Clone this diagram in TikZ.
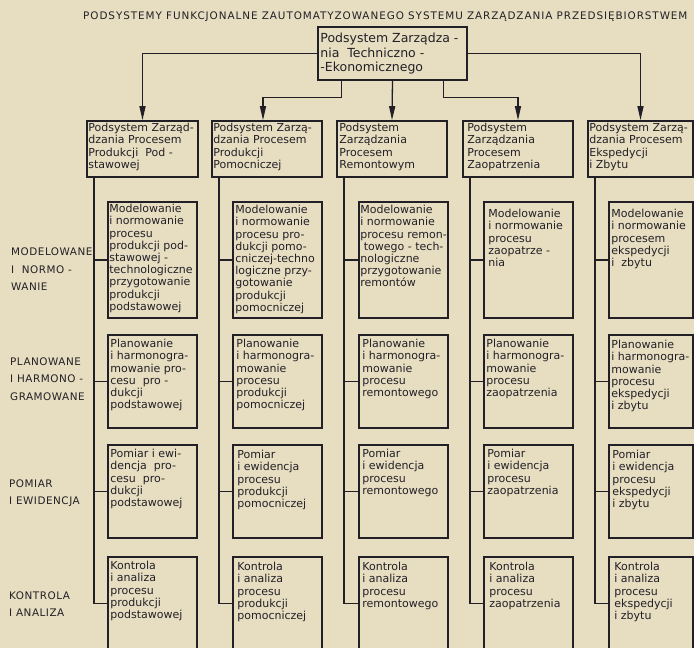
\documentclass[tikz,border=0pt]{standalone}
\usepackage{fontspec}
\setmainfont{DejaVu Sans}
\usetikzlibrary{arrows.meta,fit}
\definecolor{paper}{RGB}{231,221,193}
\definecolor{ink}{RGB}{34,32,38}
\begin{document}
\begin{tikzpicture}[x=1pt,y=-1pt,
  box/.style={draw=ink, line width=1.6pt, inner sep=0pt},
  txt/.style={anchor=north west, align=left, inner sep=0pt, text=ink, font=\fontsize{11}{12.2}\selectfont},
  conn/.style={draw=ink, line width=1.3pt},
  arr/.style={conn, -{Triangle[length=14pt,width=6pt]}},
  lab/.style={anchor=west, align=left, inner sep=0pt, text=ink, font=\fontsize{10.4}{17.5}\selectfont\addfontfeatures{LetterSpace=5}}]
\clip (0,0) rectangle (694,648);
\fill[paper] (0,0) rectangle (694,648);

% title
\node[anchor=west, inner sep=0pt, text=ink, font=\fontsize{10.4}{11}\selectfont\addfontfeatures{LetterSpace=9}] (title) at (83,17) {PODSYSTEMY FUNKCJONALNE ZAUTOMATYZOWANEGO SYSTEMU ZARZĄDZANIA PRZEDSIĘBIORSTWEM};

% top box
\node[box, fit={(318,27)(467,80)}] (top) {};
\node[txt, font=\fontsize{12.5}{14.5}\selectfont] (topt) at ([shift={(3pt,-7pt)}]top.north west) {Podsystem Zarządza -\\nia~~Techniczno -\\-Ekonomicznego};

% headers
\node[box, fit={(87,121)(198,177)}] (h1) {};
\node[box, fit={(212,121)(322,177)}] (h2) {};
\node[box, fit={(337,121)(447,177)}] (h3) {};
\node[box, fit={(463,121)(573,177)}] (h4) {};
\node[box, fit={(588,121)(693,177)}] (h5) {};
\node[txt] (h1t) at ([shift={(2pt,-3pt)}]h1.north west) {Podsystem Zarząd-\\dzania Procesem\\Produkcji~~Pod -\\stawowej};
\node[txt] (h2t) at ([shift={(2pt,-3pt)}]h2.north west) {Podsystem Zarzą-\\dzania Procesem\\Produkcji\\Pomocniczej};
\node[txt] (h3t) at ([shift={(3pt,-3pt)}]h3.north west) {Podsystem\\Zarządzania\\Procesem\\Remontowym};
\node[txt] (h4t) at ([shift={(5pt,-3pt)}]h4.north west) {Podsystem\\Zarządzania\\Procesem\\Zaopatrzenia};
\node[txt] (h5t) at ([shift={(2pt,-3pt)}]h5.north west) {Podsystem Zarzą-\\dzania Procesem\\Ekspedycji\\i Zbytu};

% connectors from top
\draw[arr] (top.west) -| (h1.north);
\draw[arr] (top.east) -| (h5.north);
\draw[arr] (top.south) -- (h3.north);
\draw[arr] ([xshift=-51pt]top.south) -- ++(0,17) -| ([xshift=-4pt]h2.north);
\draw[arr] ([xshift=51pt]top.south) -- ++(0,17) -| (h4.north);

% spine x positions
\coordinate (s1) at (94,0);
\coordinate (s2) at (219,0);
\coordinate (s3) at (344,0);
\coordinate (s4) at (470,0);
\coordinate (s5) at (595,0);

% row boxes
\node[box, fit={(108,202)(197,318)}] (m1) {};
\node[box, fit={(233,202)(322,318)}] (m2) {};
\node[box, fit={(359,202)(448,318)}] (m3) {};
\node[box, fit={(484,202)(573,318)}] (m4) {};
\node[box, fit={(609,202)(693,318)}] (m5) {};

\node[box, fit={(108,335)(197,428)}] (p1) {};
\node[box, fit={(233,335)(322,428)}] (p2) {};
\node[box, fit={(359,335)(448,428)}] (p3) {};
\node[box, fit={(484,335)(573,428)}] (p4) {};
\node[box, fit={(609,335)(693,428)}] (p5) {};

\node[box, fit={(108,445)(197,538)}] (e1) {};
\node[box, fit={(233,445)(322,538)}] (e2) {};
\node[box, fit={(359,445)(448,538)}] (e3) {};
\node[box, fit={(484,445)(573,538)}] (e4) {};
\node[box, fit={(609,445)(693,538)}] (e5) {};

\node[box, fit={(108,557)(197,650)}] (k1) {};
\node[box, fit={(233,557)(322,650)}] (k2) {};
\node[box, fit={(359,557)(448,650)}] (k3) {};
\node[box, fit={(484,557)(573,650)}] (k4) {};
\node[box, fit={(609,557)(693,650)}] (k5) {};

% texts
\node[txt] (m1t) at ([shift={(2pt,-3pt)}]m1.north west) {Modelowanie\\i normowanie\\procesu\\produkcji pod-\\stawowej -\\technologiczne\\przygotowanie\\produkcji\\podstawowej};
\node[txt] (m2t) at ([shift={(3pt,-4pt)}]m2.north west) {Modelowanie\\i normowanie\\procesu pro-\\dukcji pomo-\\cniczej-techno\\logiczne przy-\\gotowanie\\produkcji\\pomocniczej};
\node[txt] (m3t) at ([shift={(2pt,-4pt)}]m3.north west) {Modelowanie\\i normowanie\\procesu remon-\\~towego - tech-\\nologiczne\\przygotowanie\\remontów};
\node[txt] (m4t) at ([shift={(5pt,-8pt)}]m4.north west) {Modelowanie\\i normowanie\\procesu\\zaopatrze -\\nia};
\node[txt] (m5t) at ([shift={(3pt,-8pt)}]m5.north west) {Modelowanie\\i normowanie\\procesem\\ekspedycji\\i~ zbytu};

\node[txt] (p1t) at ([shift={(3pt,-5pt)}]p1.north west) {Planowanie\\i harmonogra-\\mowanie pro-\\cesu~~pro -\\dukcji\\podstawowej};
\node[txt] (p2t) at ([shift={(4pt,-5pt)}]p2.north west) {Planowanie\\i harmonogra-\\mowanie\\procesu\\produkcji\\pomocniczej};
\node[txt] (p3t) at ([shift={(4pt,-5pt)}]p3.north west) {Planowanie\\i harmonogra-\\mowanie\\procesu\\remontowego};
\node[txt] (p4t) at ([shift={(3pt,-5pt)}]p4.north west) {Planowanie\\i harmonogra-\\mowanie\\procesu\\zaopatrzenia};
\node[txt] (p5t) at ([shift={(3pt,-6pt)}]p5.north west) {Planowanie\\i harmonogra-\\mowanie\\procesu\\ekspedycji\\i zbytu};

\node[txt] (e1t) at ([shift={(3pt,-5pt)}]e1.north west) {Pomiar i ewi-\\dencja~~pro-\\cesu~~pro-\\dukcji\\podstawowej};
\node[txt] (e2t) at ([shift={(5pt,-6pt)}]e2.north west) {Pomiar\\i ewidencja\\procesu\\produkcji\\pomocniczej};
\node[txt] (e3t) at ([shift={(4pt,-5pt)}]e3.north west) {Pomiar\\i ewidencja\\procesu\\remontowego};
\node[txt] (e4t) at ([shift={(4pt,-5pt)}]e4.north west) {Pomiar\\i ewidencja\\procesu\\zaopatrzenia};
\node[txt] (e5t) at ([shift={(4pt,-6pt)}]e5.north west) {Pomiar\\i ewidencja\\procesu\\ekspedycji\\i zbytu};

\node[txt] (k1t) at ([shift={(3pt,-5pt)}]k1.north west) {Kontrola\\i analiza\\procesu\\produkcji\\podstawowej};
\node[txt] (k2t) at ([shift={(5pt,-6pt)}]k2.north west) {Kontrola\\i analiza\\procesu\\produkcji\\pomocniczej};
\node[txt] (k3t) at ([shift={(4pt,-6pt)}]k3.north west) {Kontrola\\i analiza\\procesu\\remontowego};
\node[txt] (k4t) at ([shift={(6pt,-6pt)}]k4.north west) {Kontrola\\i analiza\\procesu\\zaopatrzenia};
\node[txt] (k5t) at ([shift={(6pt,-6pt)}]k5.north west) {Kontrola\\i analiza\\procesu\\ekspedycji\\i zbytu};

% spines and branches
\foreach \c in {1,...,5}{
  \draw[conn] (h\c.south -| s\c) |- (k\c.west);
  \draw[conn] (m\c.west -| s\c) -- (m\c.west);
  \draw[conn] (p\c.west -| s\c) -- (p\c.west);
  \draw[conn] (e\c.west -| s\c) -- (e\c.west);
}

% row labels
\node[lab] (lm) at (11,269.5) {MODELOWANE\\I~ NORMO -\\WANIE};
\node[lab] (lp) at (10,379) {PLANOWANE\\I HARMONO -\\GRAMOWANE};
\node[lab] (le) at (9,493) {POMIAR\\I EWIDENCJA};
\node[lab] (lk) at (9,604) {KONTROLA\\I ANALIZA};
\end{tikzpicture}
\end{document}
